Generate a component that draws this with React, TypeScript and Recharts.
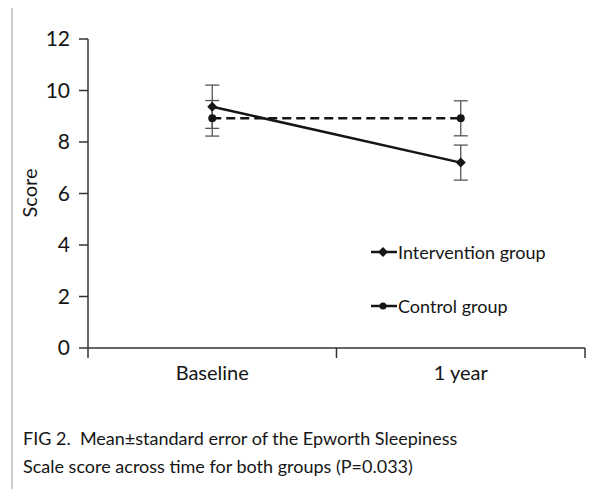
import React from 'react';
import { LineChart, Line, XAxis, YAxis, ErrorBar, Legend, Label } from 'recharts';

const categories = ['Baseline', '1 year'];
const interventionMean = [9.37, 7.2];
const interventionSE = [0.84, 0.68];
const controlMean = [8.92, 8.92];
const controlSE = [0.69, 0.68];
const yTicks = [0, 2, 4, 6, 8, 10, 12];

const FONT = 'Lato, "Open Sans", sans-serif';
const INK = '#151515';

const data = categories.map((name, i) => ({
  name,
  x: i + 0.5,
  intervention: interventionMean[i],
  interventionSE: interventionSE[i],
  control: controlMean[i],
  controlSE: controlSE[i],
}));

const Diamond = ({ cx, cy, r = 4.5 }: { cx: number; cy: number; r?: number }) => (
  <polygon points={`${cx},${cy - r} ${cx + r},${cy} ${cx},${cy + r} ${cx - r},${cy}`} fill={INK} />
);

const XTick = (props: any) => {
  const { x, y, payload } = props;
  const v = payload.value;
  if (Number.isInteger(v)) {
    return <line x1={x} x2={x} y1={y} y2={y + 10} stroke="#333" strokeWidth={1.5} />;
  }
  return (
    <text x={x} y={y + 32} textAnchor="middle" fontSize={20} fontFamily={FONT} fill={INK}>
      {categories[Math.floor(v)]}
    </text>
  );
};

const LegendRows = () => {
  const rows = [
    { name: 'Intervention group', kind: 'diamond' },
    { name: 'Control group', kind: 'circle' },
  ];
  return (
    <div>
      {rows.map((r, i) => (
        <div key={r.name} style={{ display: 'flex', alignItems: 'center', height: 22, marginBottom: i === 0 ? 32 : 0 }}>
          <svg width={27} height={14} style={{ marginRight: 0 }}>
            <line x1={0} x2={26} y1={7} y2={7} stroke={INK} strokeWidth={2.5} />
            {r.kind === 'diamond' ? <Diamond cx={12} cy={7} r={5} /> : <circle cx={12} cy={7} r={3.5} fill={INK} />}
          </svg>
          <span style={{ fontFamily: FONT, fontSize: 18, color: INK }}>{r.name}</span>
        </div>
      ))}
    </div>
  );
};

export default function App() {
  return (
    <div style={{ position: 'relative', width: 601, height: 497, margin: -8, overflow: 'hidden', background: '#fff' }}>
      <div
        style={{
          position: 'absolute', left: 11, top: 6, width: 585, height: 520,
          border: '2px solid #cccccc', boxSizing: 'border-box',
        }}
      />
      <div style={{ position: 'absolute', left: 0, top: 0 }}>
        <LineChart width={601} height={497} data={data} margin={{ top: 39, right: 16, left: 38, bottom: 119 }}>
          <XAxis
            dataKey="x"
            type="number"
            domain={[0, 2]}
            ticks={[0, 0.5, 1, 1.5, 2]}
            tick={<XTick />}
            tickLine={false}
            tickSize={0}
            tickMargin={0}
            height={30}
            axisLine={{ stroke: '#333', strokeWidth: 1.5 }}
          />
          <YAxis
            domain={[0, 12]}
            ticks={yTicks}
            width={50}
            tickSize={9}
            tickMargin={9}
            axisLine={{ stroke: '#333', strokeWidth: 1.5 }}
            tickLine={{ stroke: '#333', strokeWidth: 1.5 }}
            tick={{ fontSize: 21, fontFamily: FONT, fill: INK }}
          >
            <Label
              content={() => (
                <text x={29} y={193} transform="rotate(-90 29 193)" textAnchor="middle" dominantBaseline="central"
                  fontSize={20} fontFamily={FONT} fill={INK}>
                  Score
                </text>
              )}
            />
          </YAxis>
          <Legend
            layout="vertical"
            align="center"
            verticalAlign="middle"
            content={<LegendRows />}
            wrapperStyle={{ left: 371, top: 241, width: 210 }}
          />
          <Line
            name="Control group"
            dataKey="control"
            stroke={INK}
            strokeWidth={2.5}
            strokeDasharray="9 5"
            isAnimationActive={false}
            dot={(p: any) => <circle key={`c-${p.index}`} cx={p.cx} cy={p.cy} r={4} fill={INK} />}
          >
            <ErrorBar dataKey="controlSE" direction="y" width={7} stroke="#555" strokeWidth={1.3} />
          </Line>
          <Line
            name="Intervention group"
            dataKey="intervention"
            stroke={INK}
            strokeWidth={2.5}
            isAnimationActive={false}
            dot={(p: any) => <Diamond key={`d-${p.index}`} cx={p.cx} cy={p.cy} r={5} />}
          >
            <ErrorBar dataKey="interventionSE" direction="y" width={7} stroke="#555" strokeWidth={1.3} />
          </Line>
        </LineChart>
      </div>
      <div
        style={{
          position: 'absolute', left: 23, top: 424, fontFamily: FONT, fontSize: 18,
          lineHeight: '28px', color: INK, whiteSpace: 'nowrap',
        }}
      >
        <div>FIG 2.&nbsp; Mean±standard error of the Epworth Sleepiness</div>
        <div>Scale score across time for both groups (P=0.033)</div>
      </div>
    </div>
  );
}
